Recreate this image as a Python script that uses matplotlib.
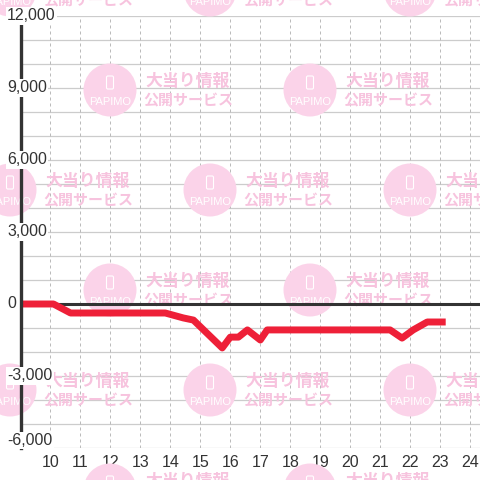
import matplotlib.pyplot as plt
from matplotlib.patches import Circle, FancyBboxPatch

plt.rcParams['font.family'] = ['Liberation Sans', 'Noto Sans CJK JP', 'DejaVu Sans']

# Data (hour of day, difference in balls)
hours = [9.0, 10.1, 10.67, 13.83, 14.43, 14.77, 15.73, 16.0, 16.27, 16.57,
         17.0, 17.23, 21.33, 21.73, 22.1, 22.57, 23.07]
diff = [0, 0, -375, -375, -580, -670, -1830, -1380, -1380, -1080,
        -1500, -1080, -1080, -1420, -1080, -750, -750]

x_ticks = list(range(10, 25))
y_ticks = [12000, 9000, 6000, 3000, 0, -3000, -6000]
y_grid = list(range(-6000, 12001, 1000))

W = 480
fig = plt.figure(figsize=(4.8, 4.8), dpi=100)
ax = fig.add_axes([20.5 / W, 32 / W, 459.5 / W, 432 / W])
ax.set_xlim(9.0, 24.33)
ax.set_ylim(-6000, 12000)

# grid
ax.set_axisbelow(True)
for v in y_grid:
    ax.axhline(v, color='#cccccc', lw=0.9, zorder=0.5)
for h in x_ticks:
    ax.axvline(h, color='#bbbbbb', lw=0.72, ls=(0, (3, 3)), zorder=0.5)

# watermark (figure pixel coords, top-left origin)
pink_circle = '#fbd3e9'
pink_text = '#f7c3de'
def fx(px):
    return px / W
def fy(py):
    return 1 - py / W

rows = [-10, 90, 190, 290, 390, 490]
for i, cy in enumerate(rows):
    cxs = [10, 210, 410] if i % 2 == 0 else [110, 310]
    for cx in cxs:
        ax.add_patch(Circle((fx(cx), fy(cy)), 26.5 / W, transform=fig.transFigure,
                            facecolor=pink_circle, edgecolor='none', zorder=1, clip_on=False))
        ax.add_patch(FancyBboxPatch((fx(cx - 3.5), fy(cy - 1)), 7 / W, 13 / W,
                                    boxstyle='round,pad=0,rounding_size=0.003',
                                    transform=fig.transFigure, facecolor='none',
                                    edgecolor='white', lw=0.8, zorder=1.1, clip_on=False))
        ax.text(fx(cx), fy(cy + 12), 'PAPIMO', transform=fig.transFigure, color='white',
                fontsize=8, ha='center', va='center', zorder=1.1, clip_on=False)
        ax.text(fx(cx + 35), fy(cy - 9), '大当り情報', transform=fig.transFigure,
                color=pink_text, fontsize=12.2, fontweight='bold', ha='left', va='center',
                family=['Noto Sans CJK JP'], zorder=1.1, clip_on=False)
        ax.text(fx(cx + 33), fy(cy + 10), '公開サービス', transform=fig.transFigure,
                color=pink_text, fontsize=10.8, fontweight='bold', ha='left', va='center',
                family=['Noto Sans CJK JP'], zorder=1.1, clip_on=False)

# zero line and data
ax.axhline(0, color='#333333', lw=2.2, zorder=2)
ax.plot(hours, diff, color='#ee2038', lw=5, zorder=3)

# spines
for s in ['top', 'right', 'bottom']:
    ax.spines[s].set_visible(False)
ax.spines['left'].set_color('#333333')
ax.spines['left'].set_linewidth(2.4)
ax.spines['left'].set_zorder(4)

# ticks
ax.set_xticks(x_ticks)
ax.tick_params(axis='x', length=0, pad=5, labelsize=11.5, labelcolor='#333333')
ax.set_yticks([])
trans = ax.get_yaxis_transform()
for v in y_ticks:
    va = 'bottom' if v == y_ticks[-1] else 'center'
    ax.text(-0.0294, v, f'{v:,}', transform=trans, ha='left', va=va, fontsize=11.5,
            color='#333333', zorder=5, clip_on=False,
            bbox=dict(facecolor='white', edgecolor='none', pad=1))

fig.savefig('out.png', dpi=100, facecolor='white')
